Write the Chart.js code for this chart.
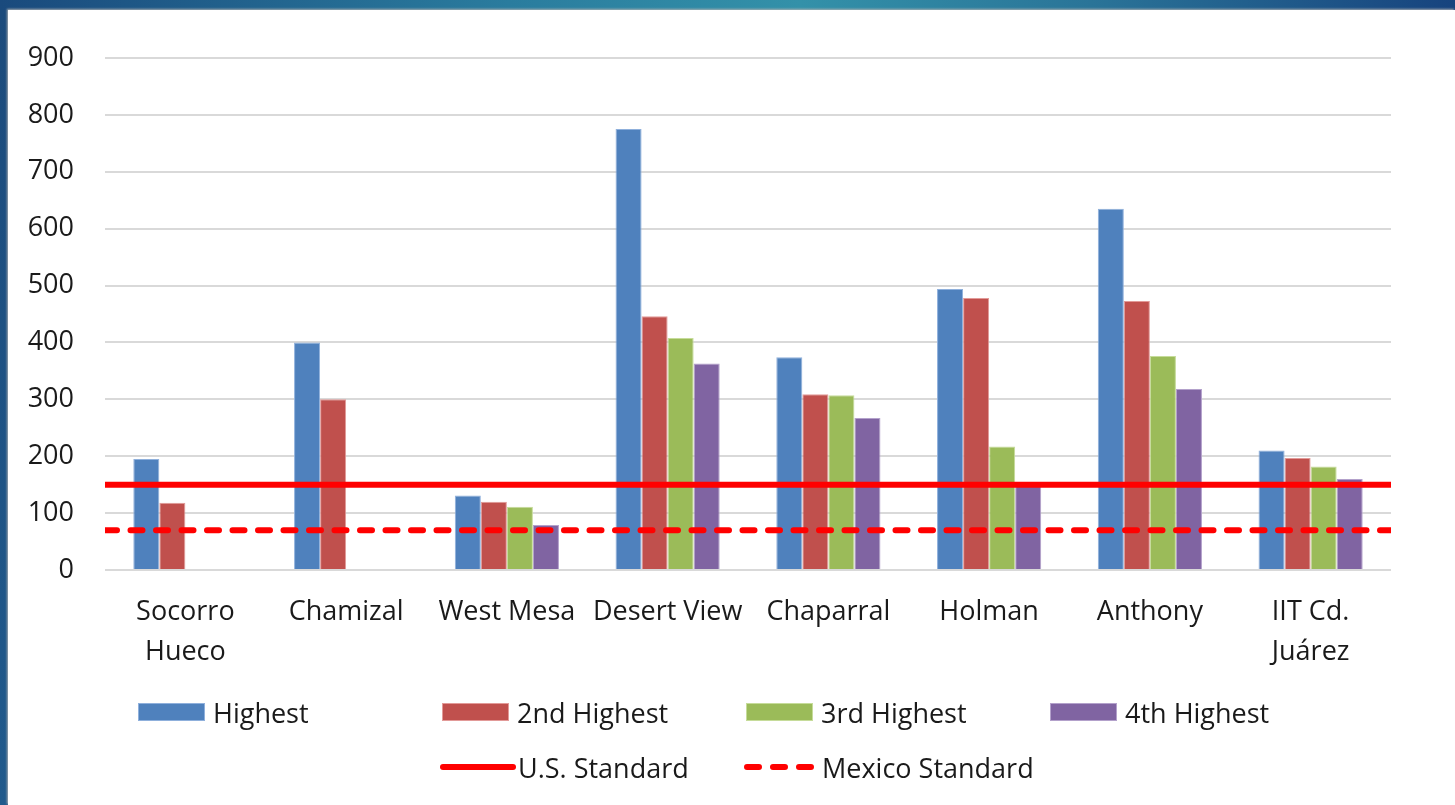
<!DOCTYPE html>
<html>
<head>
<meta charset="utf-8">
<script src="https://cdn.jsdelivr.net/npm/chart.js@4.4.0/dist/chart.umd.min.js"></script>
<style>
  html, body { margin: 0; padding: 0; }
  body {
    width: 1455px; height: 805px; position: relative; overflow: hidden;
    background: linear-gradient(90deg, #1a4a7d 0%, #2a7c9e 35%, #3391a9 55%, #2a7498 75%, #17437e 100%);
    font-family: "Open Sans", sans-serif;
  }
  #panel {
    position: absolute; left: 8px; top: 10px; right: 0; bottom: 0;
    background: #fff; box-shadow: -1px -1px 2px rgba(180,180,180,0.9);
  }
  #leftbar {
    position: absolute; left: 0; top: 10px; width: 8px; bottom: 0;
    background: linear-gradient(180deg, #1c4b7c, #215a8c);
  }
  #wrap { position: absolute; left: 0; top: 0; width: 1455px; height: 805px; }
  .legend-row { position: absolute; white-space: nowrap; font-size: 27px; color: #1a1a1a; }
  .item { display: inline-block; width: 304px; vertical-align: middle; }
  .item span { vertical-align: middle; }
  .swatch { display: inline-block; width: 65px; height: 16px; vertical-align: middle; margin-right: 8px; border: 1px solid; }
  .item svg { vertical-align: middle; margin-right: 2px; }
</style>
</head>
<body>
<div id="leftbar"></div>
<div id="panel"></div>
<div id="wrap"><canvas id="chart" width="1455" height="805"></canvas></div>
<div class="legend-row" id="legend1" style="left:138px; top:689px;"></div>
<div class="legend-row" id="legend2" style="left:440px; top:744px;"></div>
<script>
const stations = [['Socorro', 'Hueco'], 'Chamizal', 'West Mesa', 'Desert View', 'Chaparral', 'Holman', 'Anthony', ['IIT Cd.', 'Juárez']];
const highest = [195, 400, 131, 775, 374, 494, 635, 210];
const second = [118, 300, 120, 446, 309, 478, 473, 197];
const third = [null, null, 111, 408, 307, 217, 376, 182];
const fourth = [null, null, 79, 363, 267, 150, 318, 160];
const usStandard = 150;
const mexicoStandard = 70;
const yTicks = [0, 100, 200, 300, 400, 500, 600, 700, 800, 900];

const barSeries = [
  { label: 'Highest', data: highest, color: '#4F81BD', edge: '#8fb0dc' },
  { label: '2nd Highest', data: second, color: '#C0504D', edge: '#e29a98' },
  { label: '3rd Highest', data: third, color: '#9BBB59', edge: '#c6dc9a' },
  { label: '4th Highest', data: fourth, color: '#8064A2', edge: '#b3a1cb' }
];

const datasets = barSeries.map(s => ({
  type: 'bar',
  indexAxis: 'x',
  label: s.label,
  data: s.data,
  backgroundColor: s.color,
  borderColor: s.edge,
  borderWidth: 1,
  categoryPercentage: 0.648,
  barPercentage: 1,
  order: 1
}));

// standard lines run across the full plot on a hidden 0..1 axis
datasets.push({
  type: 'line',
  indexAxis: 'x',
  label: 'U.S. Standard',
  data: [{ x: 0, y: usStandard }, { x: 1, y: usStandard }],
  xAxisID: 'x2',
  yAxisID: 'y',
  borderColor: '#FF0000',
  borderWidth: 6,
  pointRadius: 0,
  order: 0
});
datasets.push({
  type: 'line',
  indexAxis: 'x',
  label: 'Mexico Standard',
  data: [{ x: 0, y: mexicoStandard }, { x: 1, y: mexicoStandard }],
  xAxisID: 'x2',
  yAxisID: 'y',
  borderColor: '#FF0000',
  borderWidth: 6,
  borderDash: [12, 13.5],
  borderCapStyle: 'round',
  pointRadius: 0,
  order: 0
});

new Chart(document.getElementById('chart'), {
  data: { labels: stations, datasets: datasets },
  options: {
    // chart-level 'y' keeps Chart.js 4.5 from splitting bar groups per x axis
    indexAxis: 'y',
    responsive: false,
    animation: false,
    layout: { padding: { top: 58, right: 64, left: 0, bottom: 0 } },
    plugins: { legend: { display: false }, tooltip: { enabled: false } },
    scales: {
      x: {
        type: 'category',
        position: 'bottom',
        grid: { display: false },
        border: { display: false },
        ticks: {
          color: '#1a1a1a',
          padding: 14,
          maxRotation: 0,
          autoSkip: false,
          font: { family: 'Open Sans', size: 27, lineHeight: 1.48 }
        },
        afterFit: scale => { scale.height = 235; }
      },
      x2: { type: 'linear', min: 0, max: 1, display: false },
      y: {
        type: 'linear',
        position: 'left',
        min: 0,
        max: 900,
        afterBuildTicks: scale => { scale.ticks = yTicks.map(v => ({ value: v })); },
        grid: { color: '#d9d9d9', lineWidth: 2, drawTicks: false },
        border: { display: false },
        ticks: {
          color: '#1a1a1a',
          padding: 31,
          font: { family: 'Open Sans', size: 27 }
        },
        afterFit: scale => { scale.width = 105; }
      }
    }
  }
});

// legend built from the same series
const legend1 = document.getElementById('legend1');
barSeries.forEach(s => {
  const el = document.createElement('div');
  el.className = 'item';
  el.innerHTML = `<i class="swatch" style="background:${s.color};border-color:${s.edge}"></i><span>${s.label}</span>`;
  legend1.appendChild(el);
});
const legend2 = document.getElementById('legend2');
[['U.S. Standard', ''], ['Mexico Standard', '12 14']].forEach(([label, dash]) => {
  const el = document.createElement('div');
  el.className = 'item';
  el.innerHTML = `<svg width="76" height="10"><line x1="3" y1="5" x2="73" y2="5" stroke="#FF0000" stroke-width="6" stroke-linecap="round" ${dash ? `stroke-dasharray="${dash}"` : ''}/></svg><span>${label}</span>`;
  legend2.appendChild(el);
});
</script>
</body>
</html>
